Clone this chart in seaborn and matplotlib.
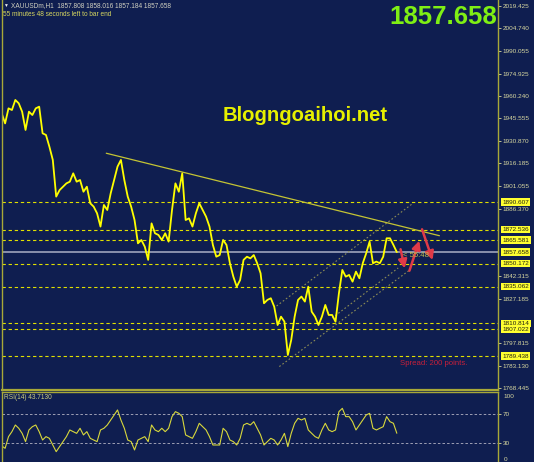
import matplotlib
matplotlib.use("Agg")
import matplotlib.pyplot as plt
import matplotlib.transforms as mtransforms
import seaborn as sns
import pandas as pd

# XAUUSDm H1 closes (one value every ~3.4 px)
closes = [
    1948.9, 1942.3, 1952.2, 1951.1, 1957.7, 1955.5, 1950.0, 1938.0, 1950.0, 1947.8,
    1952.2, 1953.3, 1935.8, 1934.7, 1927.0, 1918.3, 1894.2, 1898.5, 1900.7, 1902.9,
    1904.0, 1909.5, 1904.0, 1905.1, 1897.4, 1900.7, 1889.8, 1887.6, 1883.2, 1874.5,
    1888.7, 1885.4, 1896.4, 1905.1, 1913.9, 1918.3, 1905.1, 1894.2, 1887.6, 1878.8,
    1863.5, 1865.7, 1861.3, 1852.6, 1876.6, 1870.1, 1869.0, 1865.7, 1870.1, 1864.6,
    1885.4, 1902.9, 1897.4, 1909.5, 1878.8, 1879.9, 1874.5, 1883.2, 1889.8, 1885.4,
    1881.0, 1874.5, 1862.4, 1854.7, 1855.8, 1865.7, 1862.4, 1850.4, 1841.6, 1835.0,
    1839.4, 1852.6, 1854.7, 1853.6, 1855.8, 1850.4, 1843.8, 1824.1, 1826.3, 1827.4,
    1821.9, 1809.8, 1815.3, 1812.0, 1790.1, 1800.0, 1815.3, 1826.3, 1828.5, 1825.2,
    1835.0, 1818.6, 1815.3, 1809.8, 1815.3, 1823.0, 1816.4, 1816.4, 1812.0, 1830.7,
    1846.0, 1841.6, 1842.7, 1838.3, 1844.9, 1840.5, 1850.4, 1856.9, 1864.6, 1850.4,
    1851.5, 1850.4, 1854.7, 1866.8, 1866.8, 1862.4, 1857.7,
]

rsi_values = [
    26.4, 23.2, 39.1, 45.9, 55.0, 50.5, 43.6, 32.3, 48.2, 52.7,
    55.0, 45.9, 34.5, 39.1, 36.8, 27.7, 18.6, 25.5, 32.3, 39.1,
    48.2, 45.9, 43.6, 50.5, 41.4, 45.9, 36.8, 34.5, 32.3, 48.2,
    50.5, 55.0, 61.8, 68.6, 75.5, 61.8, 50.5, 34.5, 32.3, 20.9,
    34.5, 36.8, 39.1, 32.3, 55.0, 48.2, 45.9, 50.5, 45.9, 50.5,
    66.4, 73.2, 70.9, 66.4, 41.4, 39.1, 36.8, 45.9, 57.3, 52.7,
    48.2, 39.1, 27.7, 27.7, 27.7, 50.5, 45.9, 34.5, 32.3, 27.7,
    36.8, 55.0, 57.3, 55.0, 59.5, 50.5, 41.4, 27.7, 32.3, 36.8,
    34.5, 27.7, 34.5, 43.6, 25.5, 43.6, 57.3, 64.1, 61.8, 64.1,
    48.2, 43.6, 39.1, 36.8, 48.2, 57.3, 48.2, 45.9, 48.2, 73.2,
    77.7, 66.4, 66.4, 59.5, 48.2, 55.0, 61.8, 68.6, 70.9, 50.5,
    48.2, 50.5, 52.7, 66.4, 59.5, 57.3, 43.7,
]

axis_ticks = [2019.425, 2004.740, 1990.055, 1974.925, 1960.240, 1945.555,
              1930.870, 1916.185, 1901.055, 1886.370, 1842.315, 1827.185,
              1797.815, 1783.130, 1768.445]
level_lines = [1890.607, 1872.536, 1865.581, 1850.172, 1835.062,
               1810.814, 1807.022, 1789.438]
bid_price = 1857.658
rsi_levels = [70, 30]

trend_bars = [30.7, 128.5]
trend_prices = [1922.7, 1868.5]
channel_bars = [[80.7, 120.5], [97.0, 116.4], [81.5, 119.5]]
channel_prices = [[1822.3, 1889.4], [1814.4, 1847.3], [1782.5, 1845.5]]
arrow_bars = [(117.1, 118.3), (119.7, 122.6), (123.4, 126.5)]
arrow_prices = [(1859.6, 1847.0), (1845.5, 1865.2), (1872.7, 1852.5)]

BG = "#0f1e50"
FRAME = "#a8a838"
LABEL = "#d8d8a0"

df = pd.DataFrame({"bar": range(len(closes)), "close": closes, "rsi": rsi_values})

sns.set_style("dark", rc={"axes.facecolor": BG, "figure.facecolor": BG,
                          "axes.edgecolor": FRAME})
plt.rcParams["font.family"] = ["Liberation Sans", "DejaVu Sans"]

fig = plt.figure(figsize=(5.34, 4.62), dpi=100, facecolor=BG)
ax = fig.add_axes([1.7 / 534, 72 / 462, 496.3 / 534, 390 / 462])
ax_rsi = fig.add_axes([1.7 / 534, 0, 496.3 / 534, 70 / 462])

# price panel
for v in level_lines:
    ax.axhline(v, color="#e0e000", lw=0.8, ls=(0, (3, 2.5)))
ax.axhline(bid_price, color="#9ea4bc", lw=1.2)

for xs, ys in zip(channel_bars, channel_prices):
    ax.plot(xs, ys, color="#8c8c55", lw=0.8, ls=(0, (1.5, 2)))
ax.plot(trend_bars, trend_prices, color="#c4c434", lw=0.9)

sns.lineplot(data=df, x="bar", y="close", ax=ax, color="#ffff00", lw=1.3)

for xs, ys in zip(arrow_bars, arrow_prices):
    ax.annotate("", xy=(xs[1], ys[1]), xytext=(xs[0], ys[0]),
                arrowprops=dict(arrowstyle="-|>,head_length=0.5,head_width=0.25",
                                color="#e03a48", lw=1.8, shrinkA=0, shrinkB=0))

ax.set_xlim(0, 145.7)
ax.set_ylim(1767.1, 2023.4)
ax.set_xlabel("")
ax.set_ylabel("")
ax.set_xticks([])
ax.yaxis.tick_right()
ax.set_yticks(axis_ticks)
ax.set_yticklabels([f"{v:.3f}" for v in axis_ticks])
ax.tick_params(axis="y", colors=LABEL, labelsize=4.6, length=2, width=0.6,
               pad=1.5, right=True, left=False)
ax.spines["top"].set_visible(False)
ax.spines["bottom"].set_linewidth(1.6)
for s in ["left", "right"]:
    ax.spines[s].set_linewidth(1.0)

blend = mtransforms.blended_transform_factory(ax.transAxes, ax.transData)
for v in level_lines + [bid_price]:
    ax.text(1.009, v, f"{v:.3f}", transform=blend, fontsize=4.6, color="#202010",
            ha="left", va="center",
            bbox=dict(boxstyle="square,pad=0.2", fc="#ffff30", ec="none"))

ax.text(0.611, 0.703, "Blogngoaihoi.net", transform=ax.transAxes, fontsize=14.6,
        fontweight="bold", color="#e6f000", ha="center", va="center")
ax.text(0.998, 0.956, "1857.658", transform=ax.transAxes, fontsize=18.5,
        fontweight="bold", color="#7fef14", ha="right", va="center")
ax.text(0.8025, 0.067, "Spread: 200 points.", transform=ax.transAxes, fontsize=5.6,
        color="#c8203a", ha="left", va="center")
ax.text(0.808, 0.344, "< 55:48", transform=ax.transAxes, fontsize=5.6,
        color="#c0c050", ha="left", va="center")

fig.text(3 / 534, 1 - 5.5 / 462, "\u25bc", fontsize=3.5, color="#f0f0f0",
         ha="left", va="center")
fig.text(11 / 534, 1 - 5.5 / 462, "XAUUSDm,H1  1857.808 1858.016 1857.184 1857.658",
         fontsize=4.7, color="#d0d0c0", ha="left", va="center")
fig.text(3 / 534, 1 - 14.5 / 462, "55 minutes 48 seconds left to bar end",
         fontsize=4.7, color="#d8d860", ha="left", va="center")

# RSI panel
for lv in rsi_levels:
    ax_rsi.axhline(lv, color="#b4b4c4", lw=0.6, ls=(0, (3, 2.5)))
sns.lineplot(data=df, x="bar", y="rsi", ax=ax_rsi, color="#d8d83c", lw=0.8)
ax_rsi.set_xlim(0, 145.7)
ax_rsi.set_ylim(4.5, 100)
ax_rsi.set_xlabel("")
ax_rsi.set_ylabel("")
ax_rsi.set_xticks([])
ax_rsi.yaxis.tick_right()
ax_rsi.set_yticks(rsi_levels)
ax_rsi.set_yticklabels([str(v) for v in rsi_levels])
ax_rsi.tick_params(axis="y", colors=LABEL, labelsize=4.6, length=2, width=0.6,
                   pad=1.5, right=True, left=False)
ax_rsi.spines["bottom"].set_visible(False)
for s in ["left", "right", "top"]:
    ax_rsi.spines[s].set_linewidth(1.0)
ax_rsi.text(1.012, 0.94, "100", transform=ax_rsi.transAxes, fontsize=4.6,
            color=LABEL, ha="left", va="center")
ax_rsi.text(1.012, 0.03, "0", transform=ax_rsi.transAxes, fontsize=4.6,
            color=LABEL, ha="left", va="center")
ax_rsi.text(0.005, 0.92, "RSI(14) 43.7130", transform=ax_rsi.transAxes,
            fontsize=4.7, color="#d0d080", ha="left", va="center")

fig.savefig("out.png", dpi=100, facecolor=BG)
